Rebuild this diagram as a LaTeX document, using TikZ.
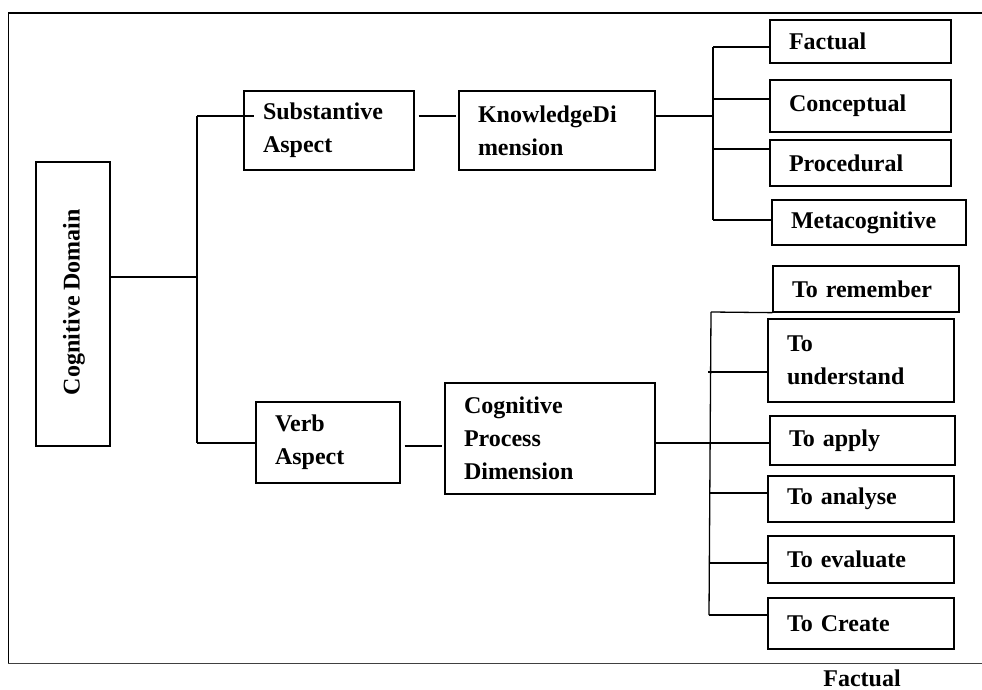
\documentclass[tikz,border=0pt]{standalone}
\usepackage{fontspec}
\setmainfont{Liberation Serif}
\begin{document}
\begin{tikzpicture}[x=1bp,y=-1bp,
  lbl/.style={font=\fontsize{24bp}{33bp}\selectfont\bfseries},
  box/.style={draw, line width=1.3bp, inner ysep=0bp, inner xsep=19bp, align=left, lbl},
  conn/.style={line width=1.3bp}]
\useasboundingbox (0,0) rectangle (982,690);
% frame
\draw[line width=2.6bp] (8,13) -- (982,13);
\draw[line width=1bp] (8,13) -- (8,663);
\draw[line width=1bp, black!75] (8,663) -- (982,663);
% boxes
\node[box, minimum width=74bp, minimum height=284bp] (cd) at (73,304) {};
\node[lbl, rotate=90] (cdt) at (74,302) {Cognitive Domain};
\node[box, text width=132bp, minimum height=79bp] (sub) at (329,130.5) {Substantive\\Aspect};
\node[box, text width=158bp, minimum height=79bp] (kd) at (557,130.5) {KnowledgeDi\\mension};
\node[box, text width=106bp, minimum height=81bp] (verb) at (328,442.5) {Verb\\Aspect};
\node[box, text width=172bp, minimum height=111bp] (cpd) at (550,438.5) {Cognitive\\Process\\Dimension};
\node[box, text width=143bp, minimum height=43bp] (fac) at (860.5,41.5) {Factual};
\node[box, text width=143bp, minimum height=52bp] (con) at (860.5,106) {Conceptual};
\node[box, text width=143bp, minimum height=46bp] (pro) at (860.5,163) {Procedural};
\node[box, text width=156bp, minimum height=45bp] (met) at (869,222.5) {Metacognitive};
\node[box, text width=148bp, minimum height=46bp] (rem) at (866,289) {To remember};
\node[box, text width=148bp, minimum height=83bp] (und) at (861,360.5) {To\\understand};
\node[box, text width=147bp, minimum height=49bp] (app) at (862.5,440.5) {To apply};
\node[box, text width=148bp, minimum height=46bp] (ana) at (861,499) {To analyse};
\node[box, text width=148bp, minimum height=47bp] (eva) at (861,559.5) {To evaluate};
\node[box, text width=148bp, minimum height=51bp] (cre) at (861,623.5) {To Create};
\node[lbl, anchor=base, inner sep=0pt] (foot) at (862,686) {Factual};
% junction coordinates
\coordinate (j1) at (197,277);
\coordinate (t1a) at (197,116);
\coordinate (t1b) at (197,443);
\coordinate (ks) at (0,116);
\coordinate (vc) at (0,446);
\coordinate (t2) at (713,116);
\coordinate (t2a) at (713,47);
\coordinate (t2b) at (713,99);
\coordinate (t2c) at (713,149);
\coordinate (t2d) at (713,220);
\coordinate (t3) at (709,443);
\coordinate (t3a) at (711,312);
\coordinate (t3b) at (708,372);
\coordinate (t3c) at (709,493);
\coordinate (t3d) at (709,563);
\coordinate (t3e) at (709,615);
% connectors
\draw[conn] (cd.east |- j1) -- (j1);
\draw[conn] (t1a) -- (t1b);
\draw[conn] (t1a) -- ([xshift=11bp]sub.west |- t1a);
\draw[conn] (t1b) -- (verb.west |- t1b);
\draw[conn] ([xshift=4bp]sub.east |- ks) -- ([xshift=-2bp]kd.west |- ks);
\draw[conn] ([xshift=4bp]verb.east |- vc) -- ([xshift=-2bp]cpd.west |- vc);
\draw[conn] (kd.east |- t2) -- (t2);
\draw[conn] (t2a) -- (t2d);
\draw[conn] (t2a) -- (fac.west |- t2a);
\draw[conn] (t2b) -- (con.west |- t2b);
\draw[conn] (t2c) -- (pro.west |- t2c);
\draw[conn] (t2d) -- (met.west |- t2d);
\draw[conn] (cpd.east |- t3) -- (t3);
\draw[conn] (t3a) -- (709,615);
\draw[conn] (t3a) -- (rem.south west);
\draw[conn] (t3b) -- (und.west |- t3b);
\draw[conn] (t3) -- (app.west |- t3);
\draw[conn] (t3c) -- (ana.west |- t3c);
\draw[conn] (t3d) -- (eva.west |- t3d);
\draw[conn] (t3e) -- (cre.west |- t3e);
\end{tikzpicture}
\end{document}
